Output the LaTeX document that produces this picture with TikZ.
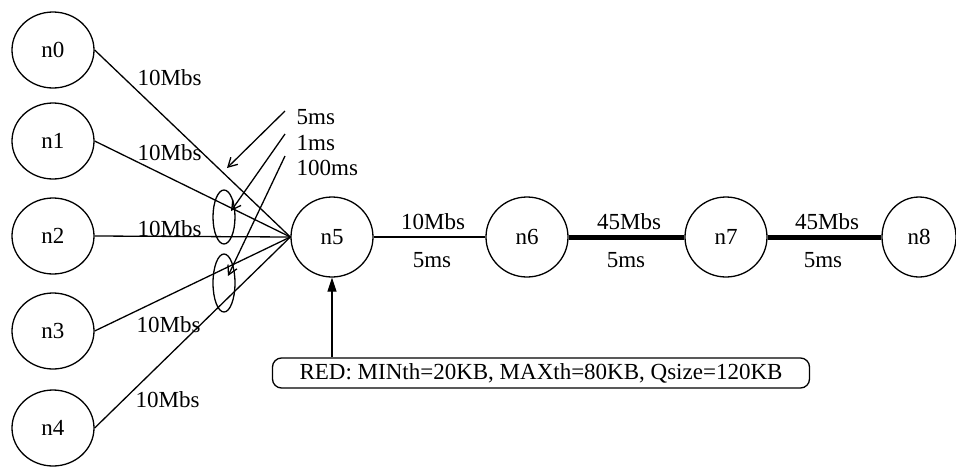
\documentclass[tikz,border=0pt]{standalone}
\usepackage{fontspec}
\setmainfont{Liberation Serif}
\usetikzlibrary{shapes.geometric,arrows.meta}
\begin{document}
\begin{tikzpicture}[x=1pt,y=-1pt,line width=1.3pt,
  txt/.style={font=\fontsize{23}{27}\selectfont},
  nd/.style={draw,ellipse,minimum width=82pt,minimum height=76pt,inner sep=0pt,txt},
  ndb/.style={nd,minimum height=80pt},
  lbl/.style={inner sep=0pt,txt},
  thick link/.style={line width=5pt},
  pointer/.style={-{Straight Barb[length=9pt,width=10pt,line width=1.3pt]}},
  redptr/.style={-{Triangle[length=14pt,width=9pt]}},
  cluster/.style={draw,ellipse,minimum width=22pt,inner sep=0pt}]
\useasboundingbox (0,0) rectangle (956,469);
% left hosts
\node[nd] (n0) at (53,50) {n0};
\node[nd] (n1) at (53,141) {n1};
\node[nd] (n2) at (53,236) {n2};
\node[nd] (n3) at (53,331) {n3};
\node[nd] (n4) at (53,428) {n4};
% chain
\node[ndb] (n5) at (332,237) {n5};
\node[ndb] (n6) at (527,237) {n6};
\node[ndb] (n7) at (726,237) {n7};
\node[ndb,minimum width=74pt] (n8) at (919,237) {n8};
% links to n5
\draw (n0.east) -- (n5.west);
\draw (n1.east) -- (n5.west);
\draw (n2.east) -- (n5.west);
\draw (n3.east) -- (n5.west);
\draw (n4.east) -- (n5.west);
\node[lbl,anchor=west] (l0) at (137,78) {10Mbs};
\node[lbl,anchor=west] (l1) at (137,153) {10Mbs};
\node[lbl,anchor=west] (l2) at (137,229) {10Mbs};
\node[lbl,anchor=west] (l3) at (136,325) {10Mbs};
\node[lbl,anchor=west] (l4) at (135,400) {10Mbs};
% chain links
\draw (n5) -- (n6);
\draw[thick link] (n6) -- (n7);
\draw[thick link] (n7) -- (n8);
\node[lbl] (b56) at (433,222) {10Mbs};
\node[lbl] (d56) at (432,260) {5ms};
\node[lbl] (b67) at (629,222) {45Mbs};
\node[lbl] (d67) at (626,260) {5ms};
\node[lbl] (b78) at (827,222) {45Mbs};
\node[lbl] (d78) at (823,260) {5ms};
% delay groups
\node[cluster,minimum height=54pt] (e1) at (224,217) {};
\node[cluster,minimum height=58pt] (e2) at (224,283) {};
\node[lbl,anchor=west] (t5) at (296,117) {5ms};
\node[lbl,anchor=west] (t1) at (296,143) {1ms};
\node[lbl,anchor=west] (t100) at (296,168) {100ms};
\coordinate (p0) at (227,168);
\coordinate (p1) at (231,211);
\coordinate (p2) at (228,276);
\draw[pointer] ([xshift=-11pt,yshift=6pt]t5.west) -- (p0);
\draw[pointer] ([xshift=-11pt,yshift=9pt]t1.west) -- (p1);
\draw[pointer] ([xshift=-11pt,yshift=12pt]t100.west) -- (p2);
% RED box
\node[draw,rounded corners=9pt,lbl,minimum height=30pt,minimum width=537pt] (red) at (541,373)
  {RED: MINth=20KB, MAXth=80KB, Qsize=120KB};
\draw[redptr] (red.north -| n5.south) -- (n5.south);
\end{tikzpicture}
\end{document}
